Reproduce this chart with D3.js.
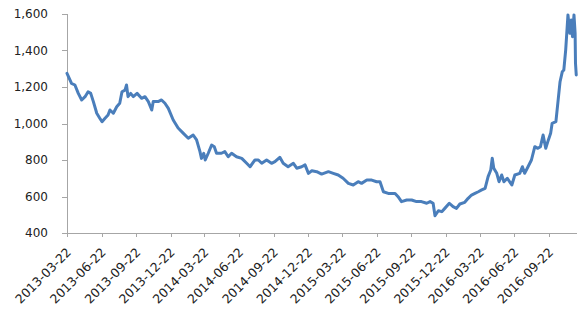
<!DOCTYPE html>
<html>
<head>
<meta charset="utf-8">
<script src="https://cdn.jsdelivr.net/npm/d3@7"></script>
<style>
    html, body { margin: 0; padding: 0; background: #fff; }
    #chart { width: 588px; height: 309px; }
    .ax-line, .ax-tick { stroke: #a6a6a6; stroke-width: 1; shape-rendering: crispEdges; }
    .ax-label { font-family: "DejaVu Sans", sans-serif; font-size: 12px; fill: #222; }
    .ax-date { font-size: 12.5px; }
    .price { fill: none; stroke: #4a7ebb; stroke-width: 3; stroke-linejoin: round; stroke-linecap: round; }
</style>
</head>
<body>
<div id="chart"></div>
<script>
// ============================================================
// Price line chart, 2013-03 .. 2016-12
// values
// ============================================================

const DATES = [
    '2013-03-22','2013-04-03','2013-04-12','2013-04-21','2013-04-30','2013-05-09','2013-05-17','2013-05-24',
    '2013-05-31','2013-06-09','2013-06-17','2013-06-23','2013-07-01','2013-07-09','2013-07-14','2013-07-23',
    '2013-08-01','2013-08-09','2013-08-15','2013-08-23','2013-08-27','2013-08-31','2013-09-07','2013-09-14',
    '2013-09-24','2013-10-06','2013-10-15','2013-10-24','2013-11-02','2013-11-06','2013-11-19','2013-11-28',
    '2013-12-07','2013-12-16','2013-12-29','2014-01-11','2014-01-25','2014-02-07','2014-02-20','2014-03-01',
    '2014-03-10','2014-03-14','2014-03-20','2014-03-24','2014-04-01','2014-04-10','2014-04-17','2014-04-23',
    '2014-05-06','2014-05-15','2014-05-24','2014-06-02','2014-06-15','2014-06-29','2014-07-12','2014-07-21',
    '2014-08-03','2014-08-12','2014-08-21','2014-09-03','2014-09-16','2014-09-25','2014-10-08','2014-10-17',
    '2014-10-30','2014-11-13','2014-11-22','2014-12-05','2014-12-14','2014-12-23','2015-01-01','2015-01-14',
    '2015-01-27','2015-02-14','2015-02-27','2015-03-12','2015-03-25','2015-04-08','2015-04-21','2015-05-04',
    '2015-05-13','2015-05-27','2015-06-09','2015-06-22','2015-07-01','2015-07-10','2015-07-23','2015-08-10',
    '2015-08-18','2015-08-27','2015-09-10','2015-09-23','2015-10-06','2015-10-19','2015-11-02','2015-11-11',
    '2015-11-19','2015-11-24','2015-12-03','2015-12-12','2015-12-20','2016-01-01','2016-01-11','2016-01-20',
    '2016-01-29','2016-02-11','2016-02-20','2016-02-29','2016-03-09','2016-03-18','2016-03-27','2016-04-05',
    '2016-04-13','2016-04-20','2016-04-24','2016-04-28','2016-05-06','2016-05-12','2016-05-19','2016-05-25',
    '2016-06-03','2016-06-15','2016-06-23','2016-07-06','2016-07-13','2016-07-19','2016-07-28','2016-08-06',
    '2016-08-15','2016-08-23','2016-08-30','2016-09-06','2016-09-13','2016-09-20','2016-09-26','2016-09-30',
    '2016-10-10','2016-10-16','2016-10-21','2016-10-27','2016-10-31','2016-11-05','2016-11-11','2016-11-16',
    '2016-11-20','2016-11-23','2016-11-27','2016-11-30','2016-12-01','2016-12-03'
];
const PRICES = [
    1275,1220,1211,1165,1129,1147,1174,1165,
    1120,1056,1029,1010,1029,1047,1074,1056,
    1092,1111,1174,1183,1211,1147,1165,1147,
    1165,1138,1147,1120,1074,1120,1120,1129,
    1111,1083,1019,975,946,919,937,910,
    846,809,837,800,837,882,873,837,
    837,846,818,837,818,809,782,763,
    800,800,782,800,782,791,815,782,
    763,782,755,763,773,727,741,736,
    723,736,727,718,700,672,663,681,
    672,690,690,681,681,626,617,617,
    599,572,581,581,572,572,563,572,
    563,495,522,517,535,563,544,535,
    559,568,590,608,617,626,636,645,
    709,745,810,755,727,681,718,681,
    700,663,718,727,763,727,763,800,
    873,864,873,937,864,910,946,1001,
    1010,1129,1229,1284,1293,1403,1595,1494,
    1567,1476,1595,1494,1330,1266
];
const X_TICKS = [
    '2013-03-22','2013-06-22','2013-09-22','2013-12-22','2014-03-22','2014-06-22','2014-09-22','2014-12-22',
    '2015-03-22','2015-06-22','2015-09-22','2015-12-22','2016-03-22','2016-06-22','2016-09-22'
];
const Y_TICKS = [400, 600, 800, 1000, 1200, 1400, 1600];
const X_START = '2013-03-22';
const X_END = '2016-12-05';

(function () {
    const W = 588, H = 309;
    const plot = { left: 67, right: 577, top: 14, bottom: 233 };
    const parse = d3.timeParse('%Y-%m-%d');

    const data = DATES.map(function (d, i) { return { t: parse(d), v: PRICES[i] }; });

    const x = d3.scaleTime().domain([parse(X_START), parse(X_END)]).range([plot.left, plot.right]);
    const y = d3.scaleLinear().domain([400, 1600]).range([plot.bottom, plot.top]);

    const svg = d3.select('#chart').append('svg')
        .attr('width', W).attr('height', H)
        .attr('viewBox', '0 0 ' + W + ' ' + H);

    // y axis: line, outward ticks, comma labels
    const fmt = d3.format(',');
    svg.append('line').attr('class', 'ax-line')
        .attr('x1', plot.left + 0.5).attr('x2', plot.left + 0.5)
        .attr('y1', y(1600)).attr('y2', plot.bottom);
    const gy = svg.append('g').selectAll('g').data(Y_TICKS).enter().append('g');
    gy.append('line').attr('class', 'ax-tick')
        .attr('x1', plot.left - 5).attr('x2', plot.left)
        .attr('y1', function (d) { return Math.round(y(d)) + 0.5; })
        .attr('y2', function (d) { return Math.round(y(d)) + 0.5; });
    gy.append('text').attr('class', 'ax-label')
        .attr('x', plot.left - 19).attr('y', function (d) { return y(d); })
        .attr('dy', '0.36em').attr('text-anchor', 'end')
        .text(function (d) { return fmt(d); });

    // x axis: line, downward ticks, rotated date labels
    svg.append('line').attr('class', 'ax-line')
        .attr('x1', plot.left).attr('x2', plot.right)
        .attr('y1', plot.bottom + 0.5).attr('y2', plot.bottom + 0.5);
    const gx = svg.append('g').selectAll('g').data(X_TICKS).enter().append('g');
    gx.append('line').attr('class', 'ax-tick')
        .attr('x1', function (d) { return Math.round(x(parse(d))) + 0.5; })
        .attr('x2', function (d) { return Math.round(x(parse(d))) + 0.5; })
        .attr('y1', plot.bottom).attr('y2', plot.bottom + 4);
    gx.append('text').attr('class', 'ax-label ax-date')
        .attr('text-anchor', 'end')
        .attr('transform', function (d) {
            return 'translate(' + (x(parse(d)) + 5) + ',' + (plot.bottom + 20) + ') rotate(-45)';
        })
        .text(function (d) { return d; });

    // price line
    const line = d3.line()
        .x(function (d) { return x(d.t); })
        .y(function (d) { return y(d.v); });
    svg.append('path').datum(data).attr('class', 'price').attr('d', line);
})();
</script>
</body>
</html>
